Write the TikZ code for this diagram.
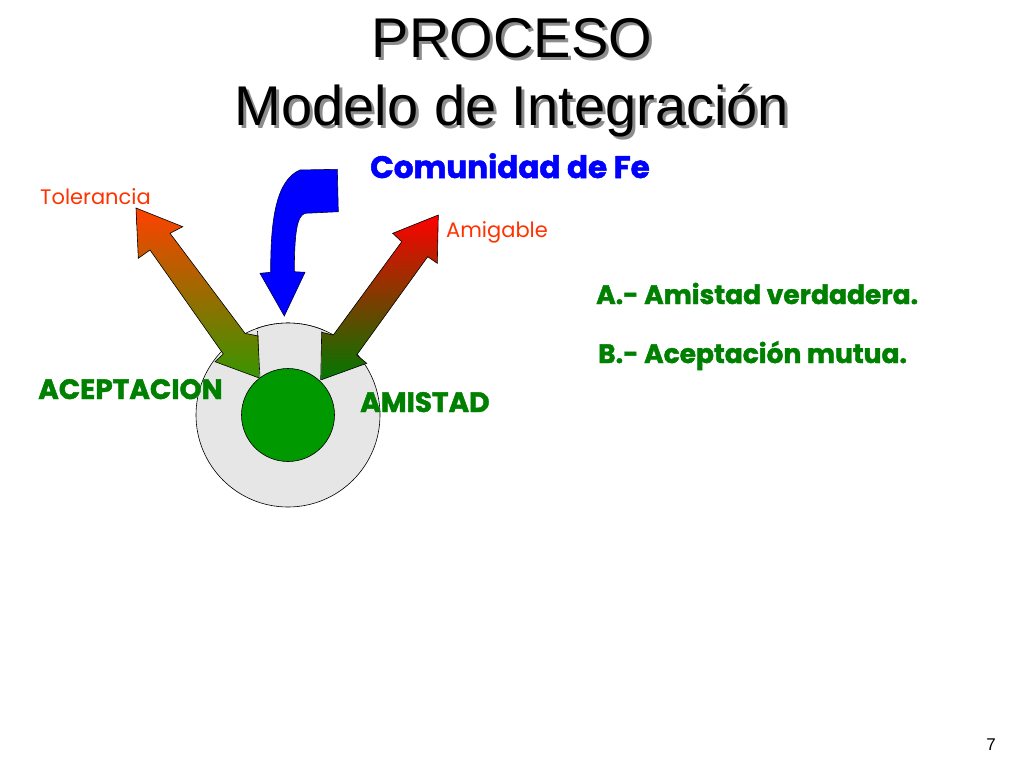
\documentclass[tikz,border=0pt]{standalone}
\usepackage{fontspec}
\setmainfont{Liberation Sans}
\newfontfamily\geofont{Poppins}
\newfontfamily\heavyfont{Poppins}[BoldFeatures={FakeBold=1.6}]
\usetikzlibrary{positioning}
\definecolor{procgreen}{RGB}{0,128,0}
\definecolor{corefill}{RGB}{0,153,0}
\definecolor{ringgray}{RGB}{230,230,230}
\definecolor{warmred}{RGB}{255,51,0}
\definecolor{faithblue}{RGB}{0,0,255}
\definecolor{tolhead}{RGB}{255,65,0}
\definecolor{toltail}{RGB}{55,150,0}
\definecolor{amihead}{RGB}{255,0,0}
\definecolor{amimid}{RGB}{170,30,0}
\definecolor{amitail}{RGB}{0,120,0}
\definecolor{shadowgray}{RGB}{140,140,140}
\newcommand{\shadowed}[1]{\makebox[0pt][l]{\hspace{3pt}\raisebox{-3pt}{\color{shadowgray}#1}}#1}

\begin{document}
\begin{tikzpicture}[x=1pt, y=-1pt,
    titletext/.style={font=\fontsize{56}{60}\selectfont, anchor=base, inner sep=0pt},
    sidelabel/.style={font=\geofont\fontsize{21}{24}\selectfont, text=warmred, anchor=base west, inner sep=0pt},
    greenlabel/.style={font=\heavyfont\bfseries\fontsize{28}{32}\selectfont, text=procgreen, anchor=base west, inner sep=0pt},
    listitem/.style={font=\heavyfont\bfseries\fontsize{26.5}{30}\selectfont, text=procgreen, anchor=base west, inner sep=0pt},
    blockarrow/.style={draw=black, line width=0.6pt, line join=miter}
  ]
  \useasboundingbox[fill=white] (0,0) rectangle (1024,768);

  % Title
  \node[titletext] (title1) at (512,57) {\shadowed{PROCESO}};
  \node[titletext] (title2) at (512,125) {\shadowed{Modelo de Integración}};

  % Ring
  \node[circle, draw=black, line width=0.6pt, fill=ringgray, minimum size=184pt, inner sep=0pt] (ring) at (288,415) {};

  % Tolerancia arrow
  \path[blockarrow, top color=tolhead, bottom color=toltail]
    (136,208) -- (182.7,226.7) -- (170,233.3) -- (245,333.3) -- (268,338)
    -- (260,378.3) -- (215,361.7) -- (223.3,354) -- (150,250) -- (138.3,258.3) -- cycle;

  % Amigable arrow
  \path[blockarrow, top color=amihead, middle color=amimid, bottom color=amitail]
    (438.3,215) -- (437.3,263.3) -- (427.7,256.7) -- (356.7,355) -- (366.7,363.3)
    -- (320.7,380) -- (312,330) -- (333.3,335) -- (401.7,241.7) -- (392.7,233.3) -- cycle;

  % top band of the ring
  \begin{scope}
    \clip (258,300) -- (322,300) -- (321,390) -- (259.5,390) -- cycle;
    \fill[ringgray] (ring.center) circle (92);
  \end{scope}
  \draw[line width=0.6pt] (257.5,331) -- (260,378);
  \draw[line width=0.6pt] (321.7,331.5) -- (320.7,380);
  \begin{scope}
    \clip (257,300) rectangle (323,345);
    \draw[line width=0.6pt] (ring.center) circle (92);
  \end{scope}

  % Core
  \node[circle, draw=black, line width=0.6pt, fill=corefill, minimum size=93pt, inner sep=0pt] (core) at (288,415) {};

  % Comunidad arrow
  \path[blockarrow, fill=faithblue, draw=black!70!blue]
    (300,170) -- (337.3,169.3) -- (338.3,211.7) -- (305,213.3)
    .. controls (297,216) and (294.5,232) .. (294.3,271.7)
    -- (305,272.3) -- (284.3,316) -- (260,273.3) -- (270.7,272.3)
    .. controls (270.5,220) and (276,180) .. (300,170) -- cycle;

  % Labels
  \node[font=\heavyfont\bfseries\fontsize{31}{34}\selectfont, text=faithblue, anchor=base west, inner sep=0pt] (fe) at (370,178) {Comunidad de Fe};
  \node[sidelabel] (tol) at (40,204) {Tolerancia};
  \node[sidelabel] (ami) at (446,237) {Amigable};
  \node[greenlabel] (acep) at (38,399) {ACEPTACION};
  \node[greenlabel] (amis) at (360,412) {AMISTAD};
  \node[listitem] (itema) at (596,304) {A.- Amistad verdadera.};
  \node[listitem] (itemb) at (598,363) {B.- Aceptación mutua.};

  % Page number
  \node[font=\fontsize{17}{20}\selectfont, anchor=base east, inner sep=0pt] (page) at (996,750) {7};
\end{tikzpicture}
\end{document}
